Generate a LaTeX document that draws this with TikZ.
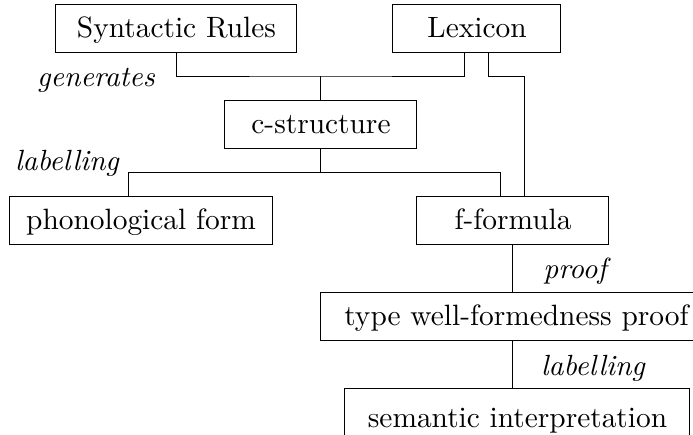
\documentclass[tikz,border=0pt]{standalone}
\usepackage{fontspec}
\setmainfont{lmroman10-regular.otf}[ItalicFont=lmroman10-italic.otf]
\usetikzlibrary{calc}
\begin{document}
\begin{tikzpicture}[x=0.5pt,y=-0.5pt,
  box/.style={draw, line width=0.5pt, inner sep=0pt, minimum height=24pt,
    text height=16.5pt, text depth=7.5pt,
    font=\fontsize{14.7}{17}\selectfont},
  lbl/.style={inner sep=0pt, anchor=base, font=\fontsize{14.6}{17}\selectfont\itshape},
  conn/.style={line width=0.5pt}]
\useasboundingbox (0,0) rectangle (693,435);
\clip (0,0) rectangle (693,435);
\node[box, minimum width=120.5pt] (syn) at (176.5,28.3) {Syntactic Rules};
\node[box, minimum width=84pt] (lex) at (477,28.3) {Lexicon};
\node[box, minimum width=96pt] (cstr) at (321,124) {c-structure};
\node[box, minimum width=132pt] (phon) at (141,220) {phonological form};
\node[box, minimum width=96pt] (ff) at (513,220) {f-formula};
\node[box, minimum width=196pt] (type) at (516.5,316) {type well-formedness proof};
\node[box, minimum width=172.5pt, minimum height=30pt, text height=19.5pt, text depth=10.5pt] (sem) at (517.5,418) {semantic interpretation};
\node[lbl] (gen) at (96,86) {generates};
\node[lbl] (lab1) at (67,170) {labelling};
\node[lbl] (prf) at (575,278) {proof};
\node[lbl] (lab2) at (593,375) {labelling};
\coordinate (j1) at (321,76);
\coordinate (lxa) at (465,0);
\coordinate (lxb) at (489,0);
\coordinate (j2) at (525,76);
\coordinate (l3) at (129,172);
\coordinate (r3) at (501,172);
\draw[conn] (syn.south) |- (j1) -| (lex.south -| lxa);
\draw[conn] (j1) -- (cstr.north);
\draw[conn] (lex.south -| lxb) |- (j2) -- (ff.north -| j2);
\draw[conn] (cstr.south) -- (cstr.south |- l3);
\draw[conn] (phon.north -| l3) -- (l3) -- (r3) -- (ff.north -| r3);
\draw[conn] (ff.south) -- (type.north -| ff.south);
\draw[conn] (type.south -| ff.south) -- (sem.north -| ff.south);
\end{tikzpicture}
\end{document}
